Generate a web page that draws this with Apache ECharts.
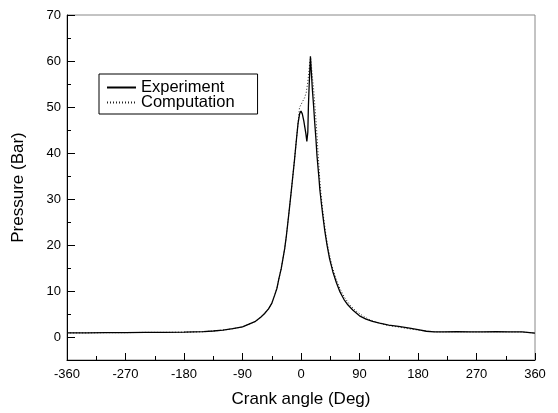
<!DOCTYPE html>
<html>
<head>
<meta charset="utf-8">
<script src="https://cdn.jsdelivr.net/npm/echarts@6/dist/echarts.min.js"></script>
<style>
html,body{margin:0;padding:0;background:#fff;}
#c{width:558px;height:413px;}
</style>
</head>
<body>
<div id="c"></div>
<script>
// Crank angle (deg) and pressure (bar)
const expAngle = [-360,-330,-300,-270,-240,-210,-180,-150,-135,-120,-105,-90,-80,-70,-62,-56,-50,-45,-40.5,-37,-33.8,-30.5,-27.7,-25.1,-22.5,-20.5,-18.4,-15.5,-13,-10,-7,-4.5,-2,0,2,4.3,6,7.5,9,9.8,10.5,11.4,12.5,13.4,14.5,15.5,17.5,19.5,21.1,23,24.6,27.7,29,31,33.5,36.5,40,44,49,54.5,60,66,72,80,90,100,110,121,135,150,167,180,193,205,220,240,260,280,300,320,340,360];
const expPressure = [0.9,0.9,0.95,0.95,1.0,1.0,1.05,1.15,1.3,1.5,1.8,2.2,2.8,3.4,4.3,5.1,6.1,7.3,9.1,10.6,12.8,14.8,17.1,19.2,22,24.5,27.2,31,34.4,38.5,43,46.5,48.6,49.1,48.5,47,45.5,44.2,42.5,42.2,44.5,50.2,54.5,57.4,61,58.5,53.8,50,46.6,43,39.4,34.4,32,29.5,26.5,23.2,20,17,14.2,11.8,9.8,8.2,7,5.8,4.6,3.9,3.4,3.0,2.6,2.3,1.95,1.6,1.25,1.1,1.1,1.15,1.1,1.1,1.15,1.1,1.1,0.85];

const compAngle = [-360,-330,-300,-270,-240,-210,-180,-150,-135,-120,-105,-90,-80,-70,-62,-56,-50,-45,-40.5,-37,-33.8,-30.5,-27.7,-25.1,-22.5,-20.5,-18.4,-15.5,-13,-10,-7,-4.5,-2.3,0,2.8,5.5,8,10,12,13.5,14.9,16,17.5,19.5,21.5,23.7,26,28.8,30.5,33,36,39,43,48,54,60,67,75,85,95,105,120,135,150,165,180,195,210,220,240,260,280,300,320,340,360];
const compPressure = [0.9,0.9,0.95,0.95,1.0,1.0,1.05,1.15,1.3,1.5,1.8,2.2,2.8,3.4,4.3,5.1,6.1,7.3,9.1,10.6,12.8,14.8,17.1,19.2,22,24.5,27.2,31,34.4,38.5,43,46.5,49.9,50.5,51.3,52,53.1,55,57.4,59.8,60.7,59,56.5,53.8,50,45.9,40.5,34.4,31.5,28,24.6,21.6,18.4,15.3,12.6,10.5,8.6,7,5.6,4.6,3.8,3.0,2.5,2.15,1.8,1.5,1.25,1.1,1.1,1.15,1.1,1.1,1.15,1.1,1.1,0.85];

const yMajorTicks = [0,10,20,30,40,50,60,70];
const yMinorTicks = [5,15,25,35,45,55,65];

const font = '"Liberation Sans", Arial, sans-serif';
const zip = (a, b) => a.map((v, i) => [v, b[i]]);

const chart = echarts.init(document.getElementById('c'), null, {renderer: 'canvas'});
chart.setOption({
  animation: false,
  backgroundColor: '#fff',
  grid: {left: 67, right: 23, top: 15, bottom: 51, show: true, borderColor: '#888', borderWidth: 1, containLabel: false},
  legend: {
    left: 99, top: 74, orient: 'vertical',
    borderColor: '#000', borderWidth: 1, backgroundColor: '#fff',
    padding: [5, 23, 3, 7], itemGap: -2, itemWidth: 29, itemHeight: 14,
    itemStyle: {opacity: 0},
    textStyle: {fontFamily: font, fontSize: 16.5, lineHeight: 15, color: '#000'},
    data: ['Experiment', 'Computation']
  },
  xAxis: {
    type: 'value', min: -360, max: 360, interval: 90,
    name: 'Crank angle (Deg)', nameLocation: 'middle', nameGap: 31,
    nameTextStyle: {fontFamily: font, fontSize: 17, color: '#000'},
    axisLine: {show: true, onZero: false, lineStyle: {color: '#000', width: 1}},
    axisTick: {show: true, inside: true, length: 7, lineStyle: {color: '#000'}},
    minorTick: {show: true, splitNumber: 2, length: 4, lineStyle: {color: '#000'}},
    axisLabel: {fontFamily: font, fontSize: 13, color: '#000', margin: 8},
    splitLine: {show: false}
  },
  yAxis: [{
    type: 'value', min: -5, max: 70, interval: 5,
    name: 'Pressure (Bar)', nameLocation: 'middle', nameGap: 40,
    nameTextStyle: {fontFamily: font, fontSize: 17, color: '#000'},
    axisLine: {show: true, onZero: false, lineStyle: {color: '#000', width: 1}},
    axisTick: {show: true, inside: true, length: 8, customValues: yMajorTicks, lineStyle: {color: '#000'}},
    axisLabel: {fontFamily: font, fontSize: 13, color: '#000', margin: 6, customValues: yMajorTicks},
    splitLine: {show: false}
  }, {
    type: 'value', min: -5, max: 70, interval: 5, position: 'left',
    axisLine: {show: false, onZero: false},
    axisTick: {show: true, inside: true, length: 4, customValues: yMinorTicks, lineStyle: {color: '#000'}},
    axisLabel: {show: false},
    splitLine: {show: false}
  }],
  series: [{
    name: 'Experiment', type: 'line', yAxisIndex: 0, showSymbol: false, symbol: 'none',
    lineStyle: {color: '#000', width: 1.3, type: 'solid'},
    itemStyle: {color: '#000'},
    data: zip(expAngle, expPressure), z: 3
  }, {
    name: 'Computation', type: 'line', yAxisIndex: 0, showSymbol: false, symbol: 'none',
    lineStyle: {color: '#222', width: 1, type: [1, 2]},
    itemStyle: {color: '#222'},
    data: zip(compAngle, compPressure), z: 2
  }]
});
</script>
</body>
</html>
